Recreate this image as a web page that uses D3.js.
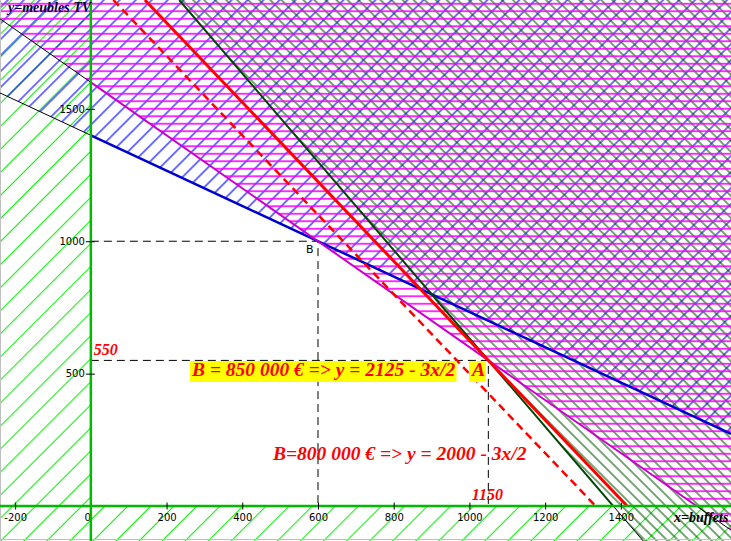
<!DOCTYPE html>
<html lang="fr">
<head>
<meta charset="UTF-8">
<title>Programmation linéaire</title>
<style>
  body { margin: 0; background: #fff; }
  svg { display: block; }
  .tick text { font-family: "DejaVu Sans", sans-serif; font-size: 10px; fill: #000; }
  .tick line { stroke: #000; }
  .domain { stroke: #00bb00; stroke-width: 2.5px; }
  .lbl { font-family: "Liberation Serif", "Times New Roman", serif; font-weight: bold; font-style: italic; }
</style>
</head>
<body>
<div id="chart"></div>
<script src="https://d3js.org/d3.v7.min.js"></script>
<script>
  // axis ticks
  const xTicks = [-200, 0, 200, 400, 600, 800, 1000, 1200, 1400];
  const yTicks = [500, 1000, 1500];

  // constraints, written y = b + m*x (region above each line is hatched)
  const constraintNames = ["blue", "magenta", "green"];
  const constraintB = [1400, 1600, 2300];
  const constraintM = [-2 / 3, -1, -5 / 3];

  // iso-profit lines y = b - 3x/2
  const profitNames = ["850 000", "800 000"];
  const profitB = [2125, 2000];
  const profitM = -3 / 2;

  // points
  const pointNames = ["A", "B"];
  const pointX = [1050, 600];
  const pointY = [550, 1000];

  const width = 731, height = 541;

  const svg = d3.select("#chart").append("svg")
    .attr("width", width)
    .attr("height", height);

  const x = d3.scaleLinear().domain([-240, 1691]).range([0, width]);
  const y = d3.scaleLinear().domain([-132, 1911]).range([height, 0]);
  const [xMin, xMax] = x.domain();
  const [yMin, yMax] = y.domain();

  const defs = svg.append("defs");
  function hatch(id, spacing, angle, color, w) {
    const p = defs.append("pattern")
      .attr("id", id)
      .attr("patternUnits", "userSpaceOnUse")
      .attr("width", spacing)
      .attr("height", spacing)
      .attr("patternTransform", `rotate(${angle})`);
    p.append("line")
      .attr("x1", spacing / 2).attr("x2", spacing / 2)
      .attr("y1", -1).attr("y2", spacing + 1)
      .attr("stroke", color)
      .attr("stroke-width", w);
  }
  hatch("h-lightgreen", 16.3, 45, "#11ee11", 1.1);
  hatch("h-blue", 11.3, 45, "#0000ff", 1.1);
  hatch("h-green", 7.8, -45, "#005a00", 1.1);
  hatch("h-magenta", 7.5, 90, "#ff00ff", 1.6);

  const line = d3.line().x(d => x(d[0])).y(d => y(d[1]));

  // non-negativity: x <= 0 or y <= 0 is excluded
  svg.append("path")
    .attr("d", line([[xMin, yMax], [0, yMax], [0, 0], [xMax, 0], [xMax, yMin], [xMin, yMin]]) + "Z")
    .attr("fill", "url(#h-lightgreen)");

  const fills = { blue: "url(#h-blue)", green: "url(#h-green)", magenta: "url(#h-magenta)" };
  ["blue", "green", "magenta"].forEach(name => {
    const i = constraintNames.indexOf(name);
    const b = constraintB[i], m = constraintM[i];
    const xa = xMin - 3000, xb = xMax + 3000;
    svg.append("path")
      .attr("d", line([[xa, b + m * xa], [xb, b + m * xb], [xb, 20000], [xa, 20000]]) + "Z")
      .attr("fill", fills[name]);
  });

  // frame
  svg.append("line").attr("x1", 0.5).attr("x2", 0.5).attr("y1", 0).attr("y2", height)
    .attr("stroke", "#c0c0c0");
  svg.append("line").attr("x1", 0).attr("x2", width).attr("y1", height - 1.5).attr("y2", height - 1.5)
    .attr("stroke", "#c0c0c0");

  // dashed guides to A and B
  pointNames.forEach((n, i) => {
    svg.append("path")
      .attr("d", line([[0, pointY[i]], [pointX[i], pointY[i]], [pointX[i], 0]]))
      .attr("fill", "none")
      .attr("stroke", "#000")
      .attr("stroke-dasharray", "8,5");
  });

  // constraint lines: thick in the first quadrant, thin black outside
  const styles = {
    blue: { color: "#0000cc", w: 2.5 },
    magenta: { color: "#cc00cc", w: 2 },
    green: { color: "#004400", w: 2 }
  };
  constraintNames.forEach((name, i) => {
    const b = constraintB[i], m = constraintM[i];
    const f = v => b + m * v;
    const xInt = -b / m;
    const xTop = (yMax - b) / m;
    const xStart = Math.max(0, xTop);
    const xEnd = Math.min(xMax, xInt);
    const xLow = Math.min(xMax, (yMin - b) / m);
    svg.append("path")
      .attr("d", line([[xMin, f(xMin)], [0, f(0)]]))
      .attr("stroke", "#000").attr("fill", "none");
    if (xInt < xMax) {
      svg.append("path")
        .attr("d", line([[xInt, 0], [xLow, f(xLow)]]))
        .attr("stroke", "#000").attr("fill", "none");
    }
    svg.append("path")
      .attr("d", line([[xStart, f(xStart)], [xEnd, f(xEnd)]]))
      .attr("stroke", styles[name].color)
      .attr("stroke-width", styles[name].w)
      .attr("fill", "none");
  });

  // iso-profit lines
  profitB.forEach((b, i) => {
    const xTop = (yMax - b) / profitM;
    const xInt = -b / profitM;
    svg.append("path")
      .attr("d", line([[xTop, yMax], [xInt, 0]]))
      .attr("stroke", "#ff0000")
      .attr("stroke-width", i === 0 ? 3 : 2.5)
      .attr("stroke-dasharray", i === 0 ? null : "8,5")
      .attr("fill", "none");
  });

  // axes
  const xAxis = svg.append("g")
    .attr("transform", `translate(0,${y(0)})`)
    .call(d3.axisBottom(x).tickValues(xTicks).tickSizeInner(3.5).tickSizeOuter(0).tickPadding(4)
      .tickFormat(d => d));
  xAxis.selectAll(".tick line").attr("y1", -3.5);
  xAxis.selectAll(".tick text").filter(d => d === 0).attr("text-anchor", "end").attr("dx", -0.5);

  const yAxis = svg.append("g")
    .attr("transform", `translate(${x(0)},0)`)
    .call(d3.axisLeft(y).tickValues(yTicks).tickSizeInner(5).tickSizeOuter(0).tickPadding(1)
      .tickFormat(d => d));
  yAxis.selectAll(".tick line").attr("x1", 4);
  svg.selectAll(".domain").attr("stroke", "#00bb00").attr("fill", "none");
  xAxis.select(".domain").attr("d", `M0,0H${width}`);
  yAxis.select(".domain").attr("d", `M0,0V${height}`);

  // annotations
  svg.append("text").attr("class", "lbl")
    .attr("x", 8).attr("y", 12)
    .attr("font-size", 14).attr("fill", "#000033")
    .text("y=meubles TV");
  svg.append("text").attr("class", "lbl")
    .attr("x", 674).attr("y", 522)
    .attr("font-size", 14).attr("fill", "#000")
    .text("x=buffets");

  svg.append("text").attr("class", "lbl")
    .attr("x", x(0) + 3).attr("y", y(pointY[0]) - 5)
    .attr("font-size", 16).attr("fill", "#ff0000")
    .text("550");
  svg.append("text").attr("class", "lbl")
    .attr("x", x(pointX[0]) - 1).attr("y", y(0) - 6)
    .attr("text-anchor", "middle")
    .attr("font-size", 16).attr("fill", "#ff0000")
    .text("1150");

  function boxed(txt, px, py) {
    const g = svg.append("g");
    const t = g.append("text").attr("class", "lbl")
      .attr("x", px).attr("y", py)
      .attr("font-size", 19.5).attr("fill", "#ff0000")
      .text(txt);
    const bb = t.node().getBBox();
    g.insert("rect", "text")
      .attr("x", bb.x - 1).attr("y", bb.y + 2)
      .attr("width", bb.width + 2).attr("height", bb.height)
      .attr("fill", "#ffff00");
  }
  boxed(`B = ${profitNames[0]} € => y = ${profitB[0]} - 3x/2`, 192, 376);
  boxed(pointNames[0], 472, 376);

  svg.append("text").attr("class", "lbl")
    .attr("x", 273).attr("y", 460)
    .attr("font-size", 19.5).attr("fill", "#ff0000")
    .text(`B=${profitNames[1]} € => y = ${profitB[1]} - 3x/2`);

  svg.append("text")
    .attr("x", x(pointX[1]) - 12).attr("y", y(pointY[1]) + 12)
    .attr("font-family", "DejaVu Sans, sans-serif")
    .attr("font-size", 11).attr("fill", "#000")
    .text(pointNames[1]);
</script>
</body>
</html>
